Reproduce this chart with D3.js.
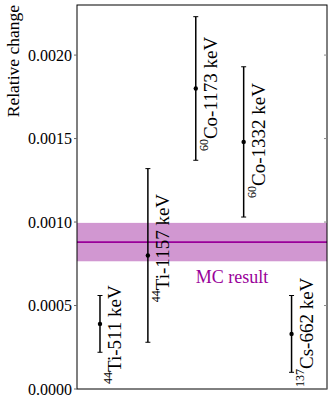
<!DOCTYPE html>
<html>
<head>
<meta charset="utf-8">
<script src="https://cdn.jsdelivr.net/npm/d3@7"></script>
<style>
  body { margin: 0; background: #fff; }
</style>
</head>
<body>
<div id="chart"></div>
<script>
// measurements
var labels = ["Ti-511 keV", "Ti-1157 keV", "Co-1173 keV", "Co-1332 keV", "Cs-662 keV"]
var isotopes = ["44", "44", "60", "60", "137"]
var values = [0.00039, 0.00080, 0.00180, 0.00148, 0.00033]
var errors = [0.00017, 0.00052, 0.00043, 0.00045, 0.00023]
// where each rotated label starts (y, data units)
var labelAt = [0.00003, 0.00052, 0.001425, 0.001144, 0.000012]

// MC result band
var mcValue = 0.00088
var mcError = 0.000115
var mcLabel = "MC result"
var mcLabelAt = [2, 0.000635]

var yTicks = [0, 0.0005, 0.0010, 0.0015, 0.0020]

var width = 333
var height = 403
// note: "top" is taken by window.top
var pLeft = 77, pRight = 327, pTop = 5, pBottom = 389
var purple = "#990099"
var serif = "'Liberation Serif'"

var svg = d3.select("#chart").append("svg")
    .attr("width", width)
    .attr("height", height)

var x = d3.scaleLinear().domain([-0.48, 4.74]).range([pLeft, pRight])
var y = d3.scaleLinear().domain([0, 0.0023]).range([pBottom, pTop])

// band + line
svg.append("rect")
    .attr("x", pLeft)
    .attr("width", pRight - pLeft)
    .attr("y", y(mcValue + mcError))
    .attr("height", y(mcValue - mcError) - y(mcValue + mcError))
    .attr("fill", "#d197d1")

svg.append("line")
    .attr("x1", pLeft).attr("x2", pRight)
    .attr("y1", y(mcValue)).attr("y2", y(mcValue))
    .attr("stroke", purple)
    .attr("stroke-width", 1.8)

svg.append("text")
    .attr("x", x(mcLabelAt[0]))
    .attr("y", y(mcLabelAt[1]))
    .attr("font-size", 18)
    .style("font-family", serif)
    .attr("fill", purple)
    .text(mcLabel)

// error bars
var pts = svg.append("g").selectAll("g")
    .data(values)
    .enter().append("g")

pts.append("line")
    .attr("x1", function(d, i) { return x(i) })
    .attr("x2", function(d, i) { return x(i) })
    .attr("y1", function(d, i) { return y(d + errors[i]) })
    .attr("y2", function(d, i) { return y(d - errors[i]) })
    .attr("stroke", "#000")
    .attr("stroke-width", 1.5)

pts.each(function(d, i) {
    var g = d3.select(this)
    ;[d + errors[i], d - errors[i]].forEach(function(v) {
        g.append("line")
            .attr("x1", x(i) - 2.5).attr("x2", x(i) + 2.5)
            .attr("y1", y(v)).attr("y2", y(v))
            .attr("stroke", "#000")
            .attr("stroke-width", 1)
    })
})

pts.append("circle")
    .attr("cx", function(d, i) { return x(i) })
    .attr("cy", function(d) { return y(d) })
    .attr("r", 2.2)
    .attr("fill", "#000")

// rotated labels
var lab = pts.append("text")
    .attr("transform", function(d, i) {
        return "translate(" + (x(i) + 21) + "," + y(labelAt[i]) + ") rotate(-90)"
    })
    .attr("font-size", 19)
    .style("font-family", serif)
    .attr("fill", "#000")

lab.append("tspan")
    .attr("font-size", 12)
    .attr("dy", -9)
    .text(function(d, i) { return isotopes[i] })
lab.append("tspan")
    .attr("dy", 9)
    .text(function(d, i) { return labels[i] })

// frame
svg.append("rect")
    .attr("x", pLeft).attr("y", pTop)
    .attr("width", pRight - pLeft).attr("height", pBottom - pTop)
    .attr("fill", "none")
    .attr("stroke", "#000")
    .attr("stroke-width", 1)

// y ticks
var ticks = svg.append("g").selectAll("g")
    .data(yTicks)
    .enter().append("g")

ticks.append("line")
    .attr("x1", pLeft - 3).attr("x2", pLeft)
    .attr("y1", function(d) { return y(d) }).attr("y2", function(d) { return y(d) })
    .attr("stroke", "#666")
ticks.append("line")
    .attr("x1", pRight - 3).attr("x2", pRight)
    .attr("y1", function(d) { return y(d) }).attr("y2", function(d) { return y(d) })
    .attr("stroke", "#888")
ticks.append("text")
    .attr("x", pLeft - 5)
    .attr("y", function(d) { return y(d) })
    .attr("dy", "0.35em")
    .attr("text-anchor", "end")
    .attr("font-size", 16)
    .style("font-family", serif)
    .text(function(d) { return d3.format(".4f")(d) })

svg.append("text")
    .attr("transform", "translate(18.5,5) rotate(-90)")
    .attr("text-anchor", "end")
    .attr("font-size", 17.5)
    .style("font-family", serif)
    .text("Relative change")
</script>
</body>
</html>
